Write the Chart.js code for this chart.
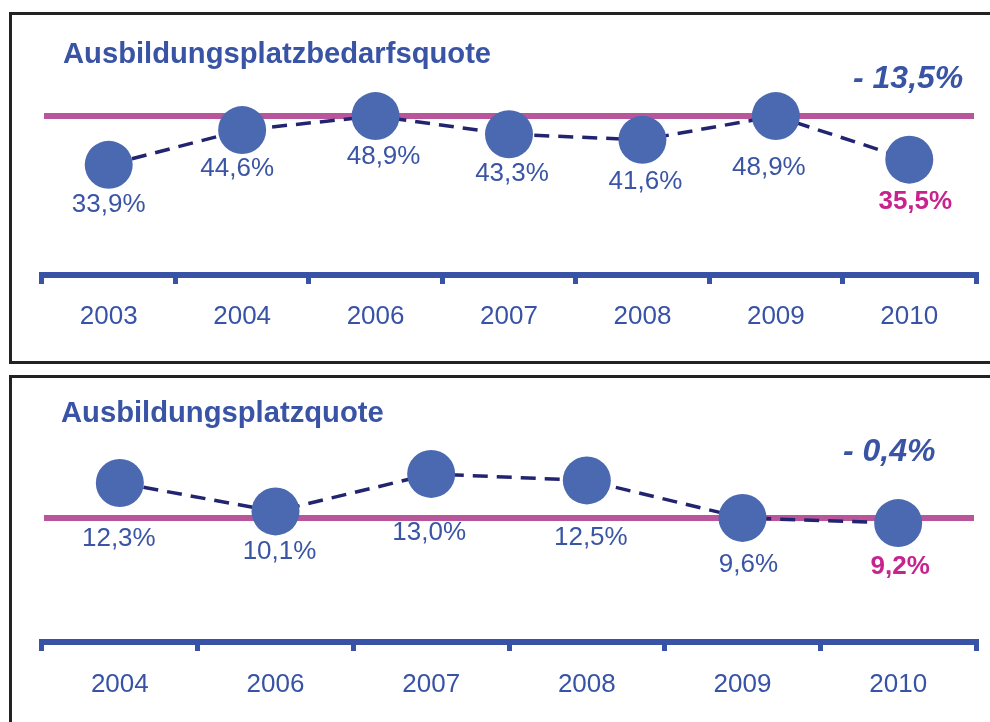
<!DOCTYPE html>
<html><head><meta charset="utf-8">
<script src="https://cdn.jsdelivr.net/npm/chart.js@4/dist/chart.umd.min.js"></script>
<style>
html,body{margin:0;padding:0;background:#fff;width:990px;height:722px;overflow:hidden;position:relative;}
.panel{position:absolute;border:3px solid #222;box-sizing:border-box;}
#p1{left:9px;top:12px;width:1000px;height:352px;}
#p2{left:9px;top:375px;width:1000px;height:400px;}
.cw{position:absolute;left:0;}
.title{position:absolute;font:bold 29.2px "Liberation Sans",Arial,sans-serif;color:#3953a5;line-height:29px;white-space:nowrap;}
.delta{position:absolute;font:italic bold 32px "Liberation Sans",Arial,sans-serif;color:#3953a5;line-height:32px;white-space:nowrap;}
</style></head><body>
<div class="panel" id="p1"></div>
<div class="panel" id="p2"></div>
<div class="cw" style="top:0;width:990px;height:370px"><canvas id="c1" width="990" height="370"></canvas></div>
<div class="cw" style="top:370px;width:990px;height:352px"><canvas id="c2" width="990" height="352"></canvas></div>
<div class="title" style="left:63px;top:39px">Ausbildungsplatzbedarfsquote</div>
<div class="delta" style="left:853px;top:61px">- 13,5%</div>
<div class="title" style="left:61px;top:398px">Ausbildungsplatzquote</div>
<div class="delta" style="left:843px;top:434px">- 0,4%</div>
<script>
// ---- data ----
const bedarfYears = ['2003','2004','2006','2007','2008','2009','2010'];
const bedarfValues = [33.9, 44.6, 48.9, 43.3, 41.6, 48.9, 35.5];
const bedarfRef = 48.9;
const platzYears = ['2004','2006','2007','2008','2009','2010'];
const platzValues = [12.3, 10.1, 13.0, 12.5, 9.6, 9.2];
const platzRef = 9.6;

// ---- layout / style ----
const FONT = '"Liberation Sans", Arial, sans-serif';
const AXIS = '#3853a6';
const TEXT = '#3a55a5';
const PINK_LINE = '#b9559a';
const PINK_TEXT = '#c8228e';
const DOT = '#4a69b0';
const DASH = '#232470';
const bedarfNudge = [[0,38],[-5,37],[8,39],[3,38],[3,40],[-7,50],[6,40]];
const platzNudge = [[-1,54],[4,39],[-2,57],[4,56],[6,45],[2,42]];

function fmt(v){ return v.toFixed(1).replace('.', ',') + '%'; }

function makeChart(id, labels, values, ref, nudge, cfg){
  const refPlugin = {
    id: 'refLine',
    beforeDatasetsDraw(chart){
      const ctx = chart.ctx, a = chart.chartArea;
      const y = chart.scales.y.getPixelForValue(ref);
      ctx.save();
      ctx.strokeStyle = PINK_LINE; ctx.lineWidth = 6;
      ctx.beginPath(); ctx.moveTo(a.left + 2, y); ctx.lineTo(a.right - 2, y); ctx.stroke();
      ctx.restore();
    }
  };
  const labelPlugin = {
    id: 'valLabels',
    afterDatasetsDraw(chart){
      const ctx = chart.ctx;
      const meta = chart.getDatasetMeta(0);
      ctx.save();
      ctx.textAlign = 'center';
      ctx.textBaseline = 'alphabetic';
      meta.data.forEach((pt, i) => {
        const last = i === values.length - 1;
        ctx.font = (last ? 'bold ' : '') + '26px ' + FONT;
        ctx.fillStyle = last ? PINK_TEXT : TEXT;
        ctx.fillText(fmt(values[i]), pt.x + nudge[i][0], pt.y + nudge[i][1] + 9);
      });
      ctx.restore();
    }
  };
  return new Chart(document.getElementById(id), {
    type: 'line',
    data: { labels: labels, datasets: [{
      data: values,
      borderColor: DASH, borderWidth: 3.5, borderDash: [15, 9], tension: 0,
      pointRadius: 24, pointHoverRadius: 24, pointBackgroundColor: DOT,
      pointBorderWidth: 0, pointHoverBorderWidth: 0, clip: false
    }]},
    options: {
      responsive: false, animation: false, events: [],
      layout: { padding: cfg.padding, autoPadding: false },
      plugins: { legend: {display:false}, tooltip: {enabled:false}, title: {display:false} },
      scales: {
        y: { display: false, min: 0, max: cfg.yMax },
        x: {
          offset: true,
          border: { display: true, color: AXIS, width: 6 },
          grid: { display: true, offset: true, drawOnChartArea: false, drawTicks: true,
                  tickLength: 9, tickWidth: 5, tickColor: AXIS, color: AXIS, lineWidth: 5 },
          ticks: { color: AXIS, font: { family: FONT, size: 26 }, padding: cfg.tickPad,
                   maxRotation: 0, autoSkip: false },
          afterFit(scale){ scale.height = cfg.xHeight; scale.paddingLeft = 0; scale.paddingRight = 0; }
        }
      }
    },
    plugins: [refPlugin, labelPlugin]
  });
}

makeChart('c1', bedarfYears, bedarfValues, bedarfRef, bedarfNudge,
  { padding: {left:42, right:14, top:80, bottom:25}, yMax: 60, xHeight: 70, tickPad: 17 });
makeChart('c2', platzYears, platzValues, platzRef, platzNudge,
  { padding: {left:42, right:14, top:60, bottom:20}, yMax: 16.4, xHeight: 60, tickPad: 18 });
</script>
</body></html>
